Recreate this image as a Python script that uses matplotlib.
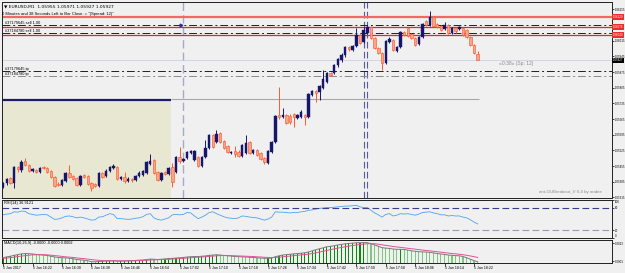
import matplotlib
matplotlib.use("Agg")
import matplotlib.pyplot as plt
import numpy as np
from matplotlib.transforms import blended_transform_factory as blend

plt.rcParams['font.family'] = ['Liberation Sans', 'DejaVu Sans']

# ---------------- data (EURUSD M1, 5 Jan 2017 16:14 - 18:23) ----------------
opens = [1.05361, 1.05379, 1.05401, 1.05379, 1.05450, 1.05437, 1.05477, 1.05459, 1.05433, 1.05437,
         1.05428, 1.05450, 1.05446, 1.05433, 1.05406, 1.05374, 1.05370, 1.05388, 1.05424, 1.05410,
         1.05401, 1.05370, 1.05415, 1.05410, 1.05379, 1.05374, 1.05366, 1.05424, 1.05410, 1.05433,
         1.05446, 1.05450, 1.05397, 1.05406, 1.05388, 1.05397, 1.05392, 1.05410, 1.05415, 1.05424,
         1.05464, 1.05482, 1.05428, 1.05392, 1.05428, 1.05419, 1.05450, 1.05428, 1.05495, 1.05477,
         1.05491, 1.05513, 1.05482, 1.05495, 1.05455, 1.05495, 1.05535, 1.05593, 1.05562, 1.05602,
         1.05567, 1.05544, 1.05513, 1.05522, 1.05518, 1.05500, 1.05513, 1.05562, 1.05513, 1.05526,
         1.05513, 1.05491, 1.05468, 1.05518, 1.05562, 1.05683, 1.05674, 1.05683, 1.05678, 1.05687,
         1.05669, 1.05674, 1.05683, 1.05674, 1.05772, 1.05790, 1.05786, 1.05804, 1.05830, 1.05871,
         1.05871, 1.05906, 1.05929, 1.05951, 1.05987, 1.05973, 1.05991, 1.06040, 1.06009, 1.06049,
         1.06076, 1.06027, 1.05982, 1.05960, 1.05915, 1.06009, 1.06018, 1.05969, 1.05987, 1.06054,
         1.06072, 1.06045, 1.06027, 1.06000, 1.06032, 1.06103, 1.06085, 1.06121, 1.06090, 1.06081,
         1.06067, 1.06085, 1.06049, 1.06072, 1.06067, 1.06072, 1.06063, 1.06032, 1.05996, 1.05955]
highs = [1.05383, 1.05401, 1.05406, 1.05455, 1.05455, 1.05482, 1.05491, 1.05464, 1.05446, 1.05442,
         1.05450, 1.05455, 1.05450, 1.05437, 1.05410, 1.05383, 1.05397, 1.05428, 1.05459, 1.05415,
         1.05406, 1.05415, 1.05419, 1.05415, 1.05383, 1.05379, 1.05428, 1.05428, 1.05442, 1.05455,
         1.05464, 1.05455, 1.05410, 1.05428, 1.05406, 1.05401, 1.05415, 1.05433, 1.05437, 1.05477,
         1.05509, 1.05486, 1.05433, 1.05428, 1.05433, 1.05450, 1.05468, 1.05500, 1.05540, 1.05491,
         1.05522, 1.05526, 1.05526, 1.05500, 1.05500, 1.05571, 1.05598, 1.05598, 1.05616, 1.05607,
         1.05571, 1.05549, 1.05522, 1.05544, 1.05526, 1.05553, 1.05593, 1.05567, 1.05531, 1.05531,
         1.05518, 1.05495, 1.05526, 1.05567, 1.05683, 1.05808, 1.05714, 1.05687, 1.05687, 1.05692,
         1.05687, 1.05705, 1.05687, 1.05781, 1.05795, 1.05795, 1.05817, 1.05884, 1.05875, 1.05875,
         1.05911, 1.05938, 1.05960, 1.05991, 1.05991, 1.05996, 1.06072, 1.06045, 1.06076, 1.06081,
         1.06081, 1.06032, 1.05987, 1.05965, 1.06018, 1.06032, 1.06023, 1.05991, 1.06058, 1.06058,
         1.06076, 1.06049, 1.06032, 1.06036, 1.06094, 1.06108, 1.06148, 1.06125, 1.06094, 1.06085,
         1.06099, 1.06090, 1.06076, 1.06076, 1.06081, 1.06076, 1.06067, 1.06036, 1.06000, 1.05971]
lows = [1.05357, 1.05370, 1.05374, 1.05357, 1.05428, 1.05428, 1.05455, 1.05428, 1.05428, 1.05424,
        1.05424, 1.05442, 1.05424, 1.05401, 1.05361, 1.05366, 1.05366, 1.05383, 1.05401, 1.05392,
        1.05366, 1.05366, 1.05401, 1.05370, 1.05343, 1.05361, 1.05361, 1.05401, 1.05406, 1.05428,
        1.05442, 1.05392, 1.05392, 1.05379, 1.05383, 1.05383, 1.05388, 1.05406, 1.05410, 1.05419,
        1.05459, 1.05419, 1.05388, 1.05388, 1.05415, 1.05415, 1.05361, 1.05424, 1.05468, 1.05473,
        1.05486, 1.05509, 1.05477, 1.05450, 1.05450, 1.05491, 1.05531, 1.05535, 1.05558, 1.05558,
        1.05531, 1.05513, 1.05509, 1.05495, 1.05495, 1.05495, 1.05509, 1.05509, 1.05509, 1.05500,
        1.05482, 1.05464, 1.05464, 1.05513, 1.05558, 1.05665, 1.05669, 1.05643, 1.05643, 1.05629,
        1.05665, 1.05669, 1.05638, 1.05669, 1.05768, 1.05741, 1.05750, 1.05799, 1.05826, 1.05857,
        1.05866, 1.05897, 1.05920, 1.05942, 1.05969, 1.05969, 1.05987, 1.06000, 1.06005, 1.06045,
        1.06023, 1.05978, 1.05956, 1.05884, 1.05911, 1.06005, 1.05969, 1.05965, 1.05982, 1.06036,
        1.06032, 1.06023, 1.05991, 1.05996, 1.06027, 1.06081, 1.06081, 1.06076, 1.06072, 1.06058,
        1.06063, 1.06045, 1.06045, 1.06049, 1.06063, 1.06036, 1.06027, 1.05991, 1.05956, 1.05927]
closes = [1.05379, 1.05397, 1.05379, 1.05450, 1.05442, 1.05473, 1.05459, 1.05433, 1.05442, 1.05428,
          1.05446, 1.05446, 1.05428, 1.05406, 1.05366, 1.05370, 1.05392, 1.05424, 1.05406, 1.05397,
          1.05370, 1.05410, 1.05406, 1.05374, 1.05357, 1.05366, 1.05424, 1.05406, 1.05433, 1.05450,
          1.05455, 1.05397, 1.05406, 1.05388, 1.05397, 1.05392, 1.05410, 1.05424, 1.05433, 1.05473,
          1.05477, 1.05424, 1.05392, 1.05424, 1.05419, 1.05446, 1.05383, 1.05495, 1.05477, 1.05486,
          1.05518, 1.05522, 1.05522, 1.05455, 1.05495, 1.05535, 1.05593, 1.05540, 1.05598, 1.05562,
          1.05535, 1.05518, 1.05518, 1.05509, 1.05500, 1.05549, 1.05558, 1.05513, 1.05526, 1.05504,
          1.05486, 1.05473, 1.05522, 1.05562, 1.05678, 1.05674, 1.05683, 1.05647, 1.05652, 1.05674,
          1.05683, 1.05696, 1.05674, 1.05777, 1.05790, 1.05781, 1.05813, 1.05844, 1.05871, 1.05862,
          1.05906, 1.05933, 1.05951, 1.05987, 1.05978, 1.05991, 1.06040, 1.06005, 1.06063, 1.06076,
          1.06027, 1.05982, 1.05960, 1.05915, 1.06014, 1.06023, 1.05973, 1.05987, 1.06054, 1.06040,
          1.06036, 1.06027, 1.05996, 1.06032, 1.06090, 1.06085, 1.06121, 1.06081, 1.06076, 1.06063,
          1.06085, 1.06049, 1.06072, 1.06058, 1.06076, 1.06040, 1.06032, 1.05996, 1.05960, 1.05927]

rsi = [61, 63, 64, 69, 68, 71, 70, 64, 62, 60, 61, 62, 61, 55, 49, 50, 53, 57, 58, 56,
       53, 55, 53, 50, 47, 48, 55, 56, 60, 64, 62, 51, 51, 50, 49, 50, 52, 53, 56, 62,
       64, 53, 49, 47, 50, 53, 61, 62, 61, 62, 67, 66, 58, 51, 55, 60, 67, 69, 64, 60,
       56, 53, 52, 51, 53, 58, 57, 55, 54, 53, 50, 47, 50, 55, 69, 68, 68, 67, 66, 67,
       67, 69, 70, 73, 74, 76, 78, 79, 80, 80, 81, 82, 83, 84, 84, 85, 86, 82, 80, 80,
       73, 66, 61, 55, 62, 64, 58, 60, 64, 63, 64, 62, 60, 63, 67, 68, 69, 66, 64, 61,
       61, 58, 59, 58, 58, 55, 53, 48, 42, 36.9121]

macd_main = [.00032, .00038, .00042, .00048, .00053, .00058, .00060, .00059, .00057, .00054,
             .00052, .00050, .00047, .00042, .00037, .00034, .00032, .00031, .00029, .00026,
             .00020, .00018, .00016, .00012, .00006, .00005, .00007, .00009, .00010, .00011,
             .00012, .00010, .00010, .00010, .00012, .00013, .00014, .00016, .00017, .00020,
             .00023, .00022, .00020, .00022, .00024, .00027, .00028, .00030, .00032, .00034,
             .00037, .00039, .00040, .00040, .00042, .00044, .00048, .00050, .00052, .00050,
             .00047, .00045, .00043, .00040, .00039, .00038, .00037, .00035, .00034, .00032,
             .00030, .00028, .00028, .00030, .00039, .00045, .00050, .00053, .00055, .00058,
             .00060, .00062, .00065, .00070, .00078, .00085, .00092, .00098, .00105, .00108,
             .00112, .00117, .00121, .00125, .00127, .00129, .00132, .00132, .00133, .00132,
             .00126, .00117, .00108, .00099, .00096, .00094, .00090, .00088, .00088, .00087,
             .00083, .00078, .00075, .00072, .00071, .00070, .00068, .00064, .00060, .00057,
             .00054, .00050, .00048, .00046, .00045, .00040, .00032, .00022, .00013, .00005]
macd_signal = [.00028, .00030, .00033, .00036, .00040, .00043, .00046, .00049, .00051, .00052,
               .00052, .00052, .00051, .00049, .00046, .00044, .00041, .00038, .00036, .00034,
               .00031, .00028, .00026, .00023, .00020, .00017, .00015, .00013, .00012, .00012,
               .00012, .00011, .00011, .00011, .00011, .00011, .00012, .00013, .00014, .00015,
               .00017, .00018, .00019, .00020, .00021, .00022, .00023, .00025, .00026, .00028,
               .00030, .00032, .00034, .00036, .00037, .00039, .00041, .00043, .00045, .00046,
               .00047, .00047, .00046, .00045, .00044, .00043, .00042, .00041, .00040, .00038,
               .00037, .00035, .00034, .00033, .00034, .00036, .00038, .00041, .00043, .00046,
               .00048, .00051, .00053, .00056, .00060, .00065, .00070, .00075, .00081, .00086,
               .00091, .00096, .00101, .00105, .00110, .00113, .00117, .00120, .00123, .00125,
               .00126, .00125, .00122, .00118, .00114, .00111, .00107, .00104, .00101, .00098,
               .00095, .00092, .00089, .00086, .00083, .00080, .00078, .00075, .00072, .00069,
               .00066, .00063, .00060, .00058, .00055, .00052, .00048, .00044, .00039, .00034]

time_labels = ['5 Jan 2017', '5 Jan 16:22', '5 Jan 16:30', '5 Jan 16:38', '5 Jan 16:46',
               '5 Jan 16:54', '5 Jan 17:02', '5 Jan 17:10', '5 Jan 17:18', '5 Jan 17:26',
               '5 Jan 17:34', '5 Jan 17:42', '5 Jan 17:50', '5 Jan 17:58', '5 Jan 18:06',
               '5 Jan 18:14', '5 Jan 18:22']
price_ticks = [1.06155, 1.06015, 1.05945, 1.05875, 1.05805, 1.05735, 1.05665,
               1.05595, 1.05525, 1.05455, 1.05385, 1.05315]
red_levels = [1.06120, 1.06076, 1.06040]
order_levels = [1.06085, 1.06049]
order_labels = ['#37179645 sell 1.00', '#37184780 sell 1.00']
tp_levels = [1.05881, 1.05857]
tp_labels = ['#37179645 tp', '#37184780 tp']
bid_price = 1.05927
range_high = 1.05748
range_line = 1.05753
rsi_levels = [80, 20]

# ---------------- layout ----------------
W, H = 625, 273
fig = plt.figure(figsize=(W / 100, H / 100), dpi=100)
BG = '#f0f0f0'
fig.patch.set_facecolor(BG)

def rect(x0, y0, x1, y1):
    return [x0 / W, 1 - y1 / H, (x1 - x0) / W, (y1 - y0) / H]

ax = fig.add_axes(rect(2, 2, 612, 198))
ax_r = fig.add_axes(rect(2, 200, 612, 238), sharex=ax)
ax_m = fig.add_axes(rect(2, 240, 612, 263), sharex=ax)

n = len(closes)
xs = np.arange(n)
o = np.array(opens); c = np.array(closes); h = np.array(highs); l = np.array(lows)
XL = (-0.3, 165.5)
YL = (1.05312, 1.06188)

FS = 2.8
AFS = 2.1
for a in (ax, ax_r, ax_m):
    a.set_facecolor(BG)
    for s in a.spines.values():
        s.set_color('#202020'); s.set_linewidth(0.7)
    a.yaxis.tick_right()
    a.tick_params(axis='y', direction='out', length=1.5, width=0.5, pad=0.5, labelsize=AFS, colors='black')
    a.tick_params(axis='x', length=0, labelbottom=False)

ax.set_xlim(*XL)
ax.set_ylim(*YL)
ax.set_yticks(price_ticks)
ax.set_yticklabels([f'{p:.5f}' for p in price_ticks])

# range box (Asian session) and lines
BOX_END = 45.7
LINE_END = 129.4
ax.fill_between([XL[0] - 1, BOX_END], YL[0], range_high, color='#e8e8d2', zorder=0.5, lw=0)
ax.hlines(range_high, XL[0] - 1, BOX_END, color='#1c1c6e', lw=1.6, zorder=1.5)
ax.hlines(range_line, BOX_END, LINE_END, color='#a8a8a8', lw=0.8, zorder=1.5)

# horizontal order lines
for i, p in enumerate(red_levels):
    ax.axhline(p, color='#f06868' if i == 0 else '#e02828', lw=1.6 if i == 0 else 0.9, zorder=1.6)
dd = (0, (8, 3, 2, 3))
for p, lab in zip(order_levels, order_labels):
    ax.axhline(p, color='#202020', lw=0.7, ls=dd, zorder=1.7)
    ax.text(0.005, p, lab, transform=blend(ax.transAxes, ax.transData), fontsize=FS,
            va='bottom', ha='left', color='black')
for p, lab, col in zip(tp_levels, tp_labels, ['#202020', '#8a8a8a']):
    ax.axhline(p, color=col, lw=0.7, ls=dd, zorder=1.7)
    ax.text(0.005, p, lab, transform=blend(ax.transAxes, ax.transData), fontsize=FS,
            va='bottom', ha='left', color='black')
ax.axhline(bid_price, color='#c8c8e6', lw=0.5, zorder=1.4)

# vertical dashed lines
ax.axvline(49, color='#a8a8cc', lw=1.0, ls=(0, (6, 3)), zorder=1.2)
for v in (98, 99):
    ax.axvline(v, color='#5a5aa4', lw=0.8, ls=(0, (6, 3)), zorder=1.2)
ax.plot([48.4], [1.06085], marker='>', ms=2, color='#3030a0', zorder=4)

# candles
bull = c >= o
BULL = '#16166b'; BEAR_E = '#ff5a30'; BEAR_F = '#f8a68a'
ax.vlines(xs[bull], l[bull], h[bull], color=BULL, lw=0.7, zorder=3)
ax.vlines(xs[~bull], l[~bull], h[~bull], color=BEAR_E, lw=0.7, zorder=3)
hb = np.maximum(np.abs(c - o), 0.00003)
ax.bar(xs[bull], hb[bull], bottom=o[bull], width=0.66, color=BULL, edgecolor=BULL, lw=0.3, zorder=3.1)
ax.bar(xs[~bull], hb[~bull], bottom=c[~bull], width=0.66, color=BEAR_F, edgecolor=BEAR_E, lw=0.45, zorder=3.1)

# price tags on the axis
tr = blend(ax.transAxes, ax.transData)
for p in red_levels:
    ax.text(1.002, p, f'{p:.5f}', transform=tr, fontsize=AFS, color='white', va='center', ha='left',
            bbox=dict(boxstyle='square,pad=0.25', fc='#e43030', ec='none'), clip_on=False, zorder=6)
ax.text(1.002, bid_price, f'{bid_price:.5f}', transform=tr, fontsize=AFS, color='white', va='center',
        ha='left', bbox=dict(boxstyle='square,pad=0.25', fc='black', ec='none'), clip_on=False, zorder=6)

# chart texts
ax.text(0.004, 0.985, '\u25bc EURUSD,M1  1.05955 1.05971 1.05927 1.05927', transform=ax.transAxes,
        fontsize=3.2, va='top', ha='left', family=['DejaVu Sans'])
ax.text(0.0, 0.95, '0 Minutes and 38 Seconds Left to Bar Close. = "(Spread: 12)"', transform=ax.transAxes,
        fontsize=3.0, va='top', ha='left')
ax.text(139.5, 1.05915, '\u00ab0:38\u00bb (Sp: 12)', fontsize=3.6, color='#8c8c8c', ha='center', va='center')
ax.text(0.983, 0.02, 'ant-GUBreakout_V 0.4 by andee', transform=ax.transAxes, fontsize=3.2,
        color='#8c8c8c', ha='right', va='bottom')

# RSI
ax_r.set_ylim(0, 100)
ax_r.plot(xs, rsi, color='#4ea2ee', lw=0.6)
ax_r.axhline(rsi_levels[0], color='#3c3c8c', lw=0.8, ls=(0, (6, 3)))
ax_r.axhline(rsi_levels[1], color='#9a9ab8', lw=0.8, ls=(0, (6, 3)))
ax_r.set_yticks([100, 80, 20, 0])
ax_r.set_yticklabels(['100', '80', '20', '0'])
tl = ax_r.get_yticklabels()
tl[0].set_va('top'); tl[3].set_va('bottom')
ax_r.text(0.003, 0.97, f'RSI(14) {rsi[-1]:.4f}', transform=ax_r.transAxes, fontsize=FS, va='top', ha='left')

# MACD
mm = np.array(macd_main)
ax_m.set_ylim(-0.00003, 0.00150)
rising = np.r_[True, mm[1:] >= mm[:-1]]
cols = np.where(rising, '#0a8a0a', '#7cc87c')
ax_m.bar(xs, mm, width=0.3, color=cols, zorder=2)
ax_m.plot(xs, mm, color='#7a7a7a', lw=0.7, zorder=3)
ax_m.plot(xs, macd_signal, color='#e0509a', lw=0.7, zorder=3)
ax_m.set_yticks([0.0013, 0.0001])
ax_m.set_yticklabels(['0.0013', '0.0001'])
ax_m.text(0.003, 0.95, 'MACD(10,26,9) -0.0000 -0.0000 0.0002', transform=ax_m.transAxes,
          fontsize=FS, va='top', ha='left')

ax_m.set_xticks(np.arange(0, 8 * len(time_labels), 8))
ax_m.set_xticklabels(time_labels)
ax_m.tick_params(axis='x', direction='out', length=2, width=0.5, pad=0.5, labelsize=2.6,
                 labelbottom=True, colors='black')
for t in ax_m.get_xticklabels():
    t.set_ha('left')
ax_m.set_xlim(*XL)

fig.savefig('out.png', dpi=100, facecolor=BG)
